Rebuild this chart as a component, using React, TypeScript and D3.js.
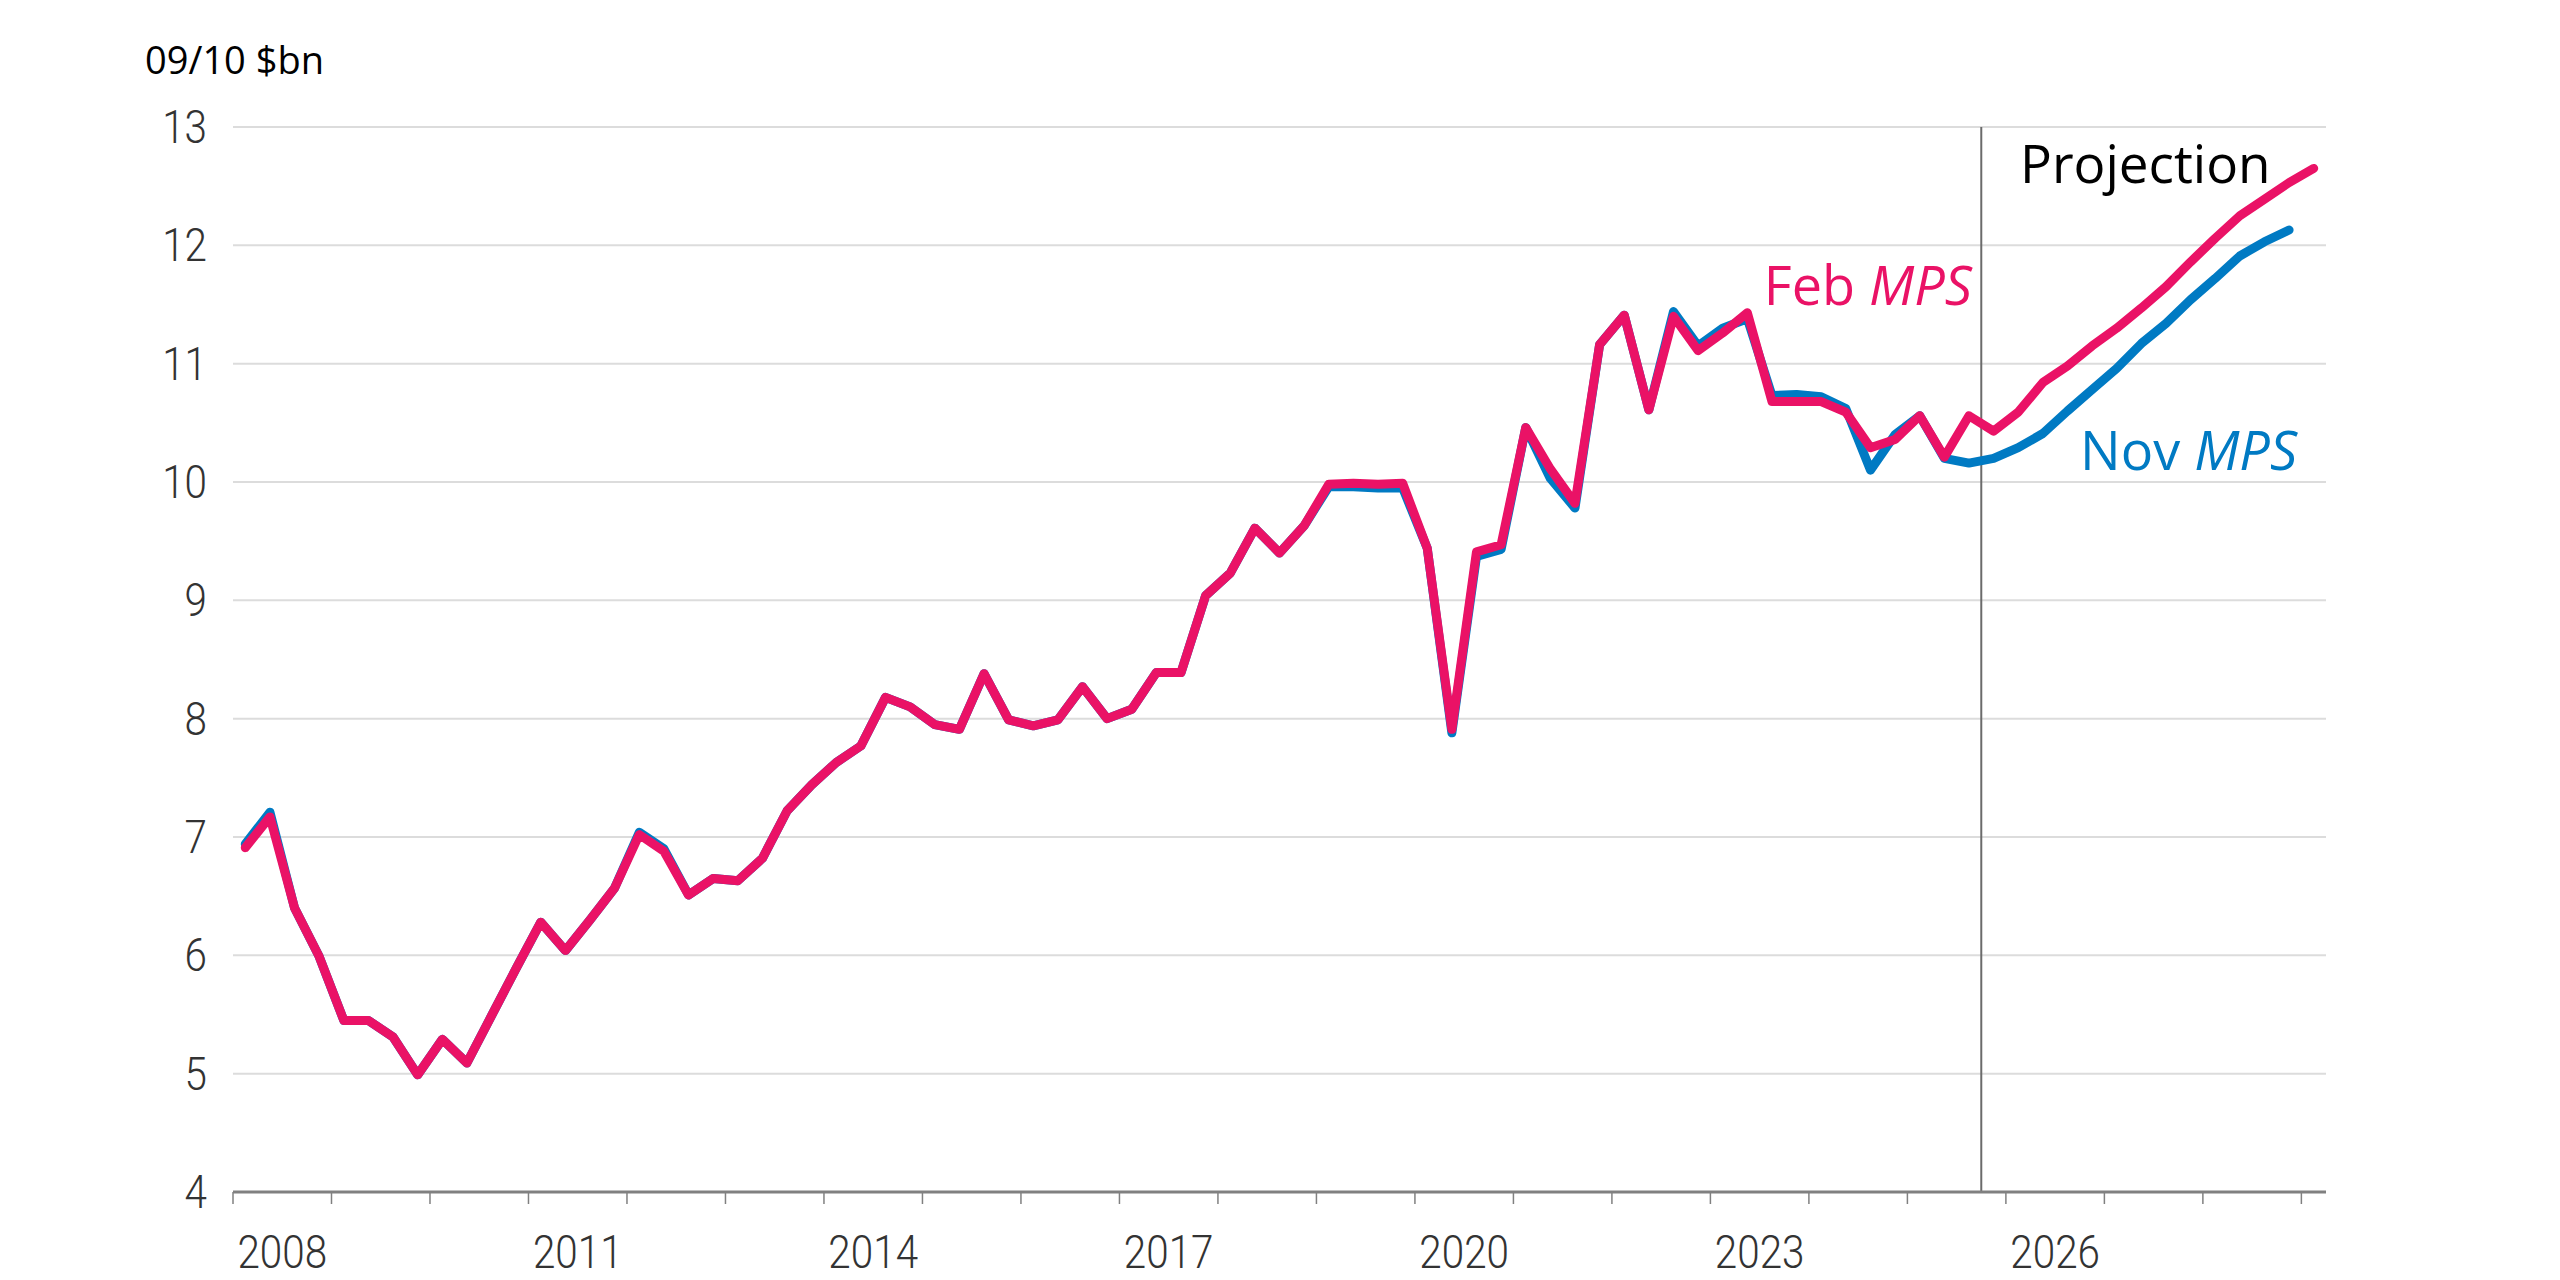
import React from "react";
import * as d3 from "d3";

// quarterly, 2008 Q1 onwards (points at mid-quarter)
const startYear = 2008;

const febMPS = [
  6.91, 7.17, 6.4, 5.99, 5.45, 5.45, 5.31, 4.99, 5.29, 5.09, 5.49, 5.89,
  6.28, 6.04, 6.3, 6.57, 7.02, 6.88, 6.51, 6.65, 6.63, 6.82, 7.22, 7.44,
  7.63, 7.77, 8.18, 8.1, 7.95, 7.91, 8.38, 7.99, 7.94, 7.99, 8.27, 8.0,
  8.08, 8.39, 8.39, 9.04, 9.23, 9.61, 9.4, 9.63, 9.98, 9.99, 9.98, 9.99,
  9.44, 7.91, 9.41, 9.47, 10.46, 10.11, 9.82, 11.16, 11.41, 10.61, 11.4, 11.11,
  11.26, 11.43, 10.68, 10.68, 10.68, 10.59, 10.29, 10.36, 10.56, 10.21, 10.56, 10.43,
  10.59, 10.84, 10.98, 11.15, 11.3, 11.47, 11.65, 11.86, 12.06, 12.25, 12.39, 12.53,
  12.65,
];

const novMPS = [
  6.94, 7.21, 6.4, 5.99, 5.45, 5.45, 5.31, 4.99, 5.29, 5.09, 5.49, 5.89,
  6.28, 6.04, 6.3, 6.57, 7.04, 6.9, 6.51, 6.65, 6.63, 6.82, 7.22, 7.44,
  7.63, 7.77, 8.18, 8.1, 7.95, 7.91, 8.38, 7.99, 7.94, 7.99, 8.27, 8.0,
  8.08, 8.39, 8.39, 9.04, 9.23, 9.61, 9.4, 9.63, 9.96, 9.96, 9.95, 9.95,
  9.44, 7.88, 9.37, 9.43, 10.46, 10.03, 9.78, 11.16, 11.41, 10.61, 11.44, 11.15,
  11.3, 11.38, 10.73, 10.74, 10.72, 10.62, 10.1, 10.4, 10.56, 10.2, 10.16, 10.2,
  10.29, 10.41, 10.6, 10.78, 10.96, 11.17, 11.34, 11.54, 11.72, 11.91, 12.03, 12.13,
];

const yTicks = [4, 5, 6, 7, 8, 9, 10, 11, 12, 13];
const xTickYears = d3.range(2008, 2030);
const xLabelYears = [2008, 2011, 2014, 2017, 2020, 2023, 2026];
const projectionStart = 2025.75;

const pink = "#ea1266";
const blue = "#007ac3";

const width = 2560;
const height = 1280;
const marginLeft = 233;
const marginRight = 234;
const marginTop = 127;
const marginBottom = 88;

const App = () => {
  const x = d3.scaleLinear()
    .domain([startYear, 2029.25])
    .range([marginLeft, width - marginRight]);

  const y = d3.scaleLinear()
    .domain([4, 13])
    .range([height - marginBottom, marginTop]);

  const t = (i: number) => startYear + (i + 0.5) / 4;

  const line = d3.line<number>()
    .x((d, i) => x(t(i)))
    .y((d) => y(d));

  const tickFont = { fontFamily: "Roboto, sans-serif", fontWeight: 300, fontSize: 47, fill: "#333" };
  const labelFont = { fontFamily: "'Open Sans', sans-serif", fontSize: 54 };

  return (
    <>
      <style>{`body{margin:0}`}</style>
      <svg width={width} height={height} viewBox={`0 0 ${width} ${height}`} style={{ display: "block", background: "#fff" }}>
        {/* gridlines */}
        {yTicks.filter((v) => v > 4).map((v) => (
          <line key={v} x1={x.range()[0]} x2={x.range()[1]} y1={y(v)} y2={y(v)} stroke="#dcdcdc" strokeWidth={2} />
        ))}

        {/* y labels */}
        {yTicks.map((v) => (
          <text key={v} transform={`translate(207,${y(v) + 16}) scale(0.86,1)`} textAnchor="end" style={tickFont}>
            {v}
          </text>
        ))}

        <text x={145} y={74} style={{ fontFamily: "'Open Sans', sans-serif", fontSize: 38, fill: "#000" }}>
          09/10 $bn
        </text>

        {/* projection marker */}
        <line x1={x(projectionStart)} x2={x(projectionStart)} y1={y(13)} y2={y(4)} stroke="#6b6b6b" strokeWidth={2} />

        {/* x axis */}
        <line x1={x.range()[0]} x2={x.range()[1]} y1={y(4)} y2={y(4)} stroke="#808080" strokeWidth={3} />
        {xTickYears.map((yr) => (
          <line key={yr} x1={x(yr)} x2={x(yr)} y1={y(4)} y2={y(4) + 12} stroke="#808080" strokeWidth={1.5} />
        ))}
        {xLabelYears.map((yr) => (
          <text key={yr} transform={`translate(${x(yr + 0.5)},1268) scale(0.86,1)`} textAnchor="middle" style={tickFont}>
            {yr}
          </text>
        ))}

        {/* series */}
        <path d={line(novMPS) ?? ""} fill="none" stroke={blue} strokeWidth={9} strokeLinejoin="round" strokeLinecap="round" />
        <path d={line(febMPS) ?? ""} fill="none" stroke={pink} strokeWidth={9} strokeLinejoin="round" strokeLinecap="round" />

        <text x={1972} y={305} textAnchor="end" style={{ ...labelFont, fill: pink }}>
          Feb <tspan fontStyle="italic">MPS</tspan>
        </text>
        <text x={2080} y={470} style={{ ...labelFont, fill: blue }}>
          Nov <tspan fontStyle="italic">MPS</tspan>
        </text>
        <text x={2020} y={183} style={{ ...labelFont, fontSize: 53, fill: "#000" }}>
          Projection
        </text>
      </svg>
    </>
  );
};

export default App;
